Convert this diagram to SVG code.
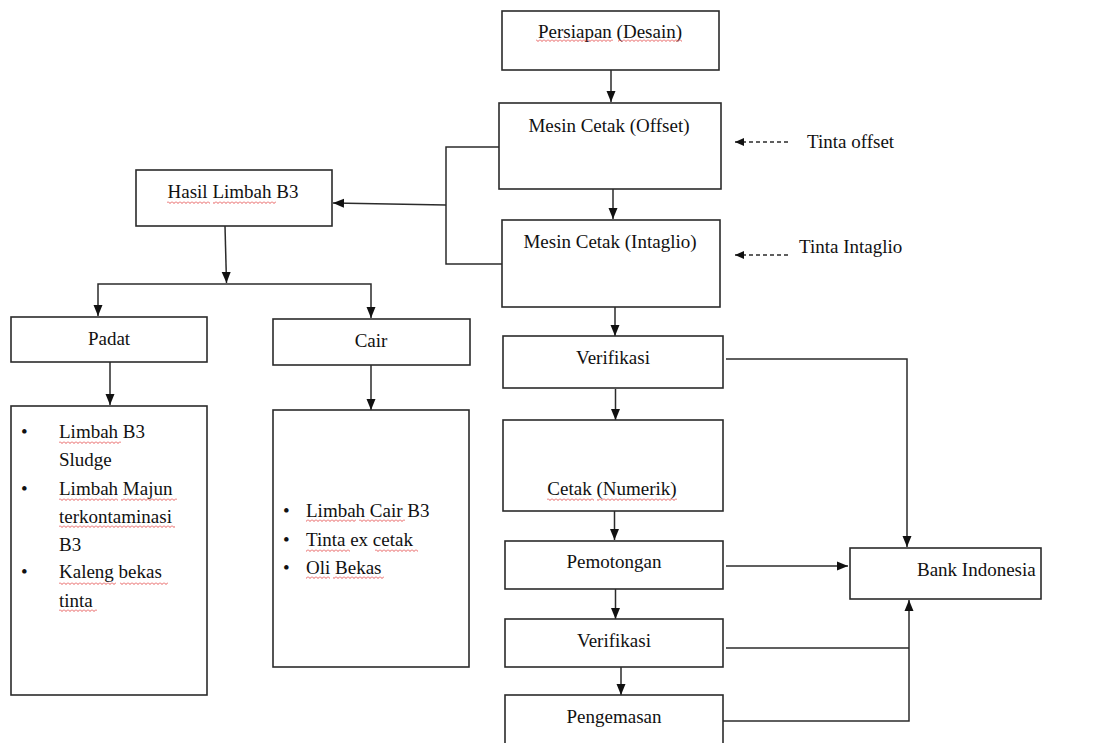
<svg xmlns="http://www.w3.org/2000/svg" width="1100" height="743" viewBox="0 0 1100 743">
<style>
.box{fill:#fff;stroke:#2b2b2b;stroke-width:1.6}
.t{font-family:'Liberation Serif','DejaVu Serif',serif;font-size:19px;fill:#111}
.c{text-anchor:middle}
.ln{fill:none;stroke:#2b2b2b;stroke-width:1.5}
.dash{fill:none;stroke:#2b2b2b;stroke-width:1.3;stroke-dasharray:4 3}
.sq{fill:url(#zig)}
</style>
<defs>
<marker id="ah" markerUnits="userSpaceOnUse" markerWidth="12" markerHeight="12" viewBox="0 0 12 12" refX="11" refY="6" orient="auto-start-reverse">
<path d="M0,1.5 L11,6 L0,10.5 Z" fill="#111"/>
</marker>
<marker id="ahs" markerUnits="userSpaceOnUse" markerWidth="10" markerHeight="10" viewBox="0 0 10 10" refX="9" refY="5" orient="auto">
<path d="M0,1 L9,5 L0,9 Z" fill="#111"/>
</marker>
<pattern id="zig" patternUnits="userSpaceOnUse" width="4" height="3">
<path d="M0,0.5 L2,2.5 L4,0.5" fill="none" stroke="#e03030" stroke-width="0.8"/>
</pattern>
</defs>
<rect width="1100" height="743" fill="#fff"/>

<g id="connectors">
<line class="ln" x1="611" y1="70" x2="611" y2="102" marker-end="url(#ah)"/>
<line class="ln" x1="613" y1="189" x2="613" y2="219" marker-end="url(#ah)"/>
<polyline class="ln" points="499,147 446,147 446,264 502,264"/>
<line class="ln" x1="446" y1="205" x2="333" y2="203" marker-end="url(#ah)"/>
<line class="ln" x1="225" y1="226" x2="226.5" y2="283" marker-end="url(#ah)"/>
<polyline class="ln" points="98,316 98,284 371,284 371,318" marker-start="url(#ah)" marker-end="url(#ah)"/>
<line class="ln" x1="110" y1="362" x2="110" y2="405" marker-end="url(#ah)"/>
<line class="ln" x1="371" y1="365" x2="371" y2="410" marker-end="url(#ah)"/>
<line class="dash" x1="788" y1="142" x2="735" y2="142" marker-end="url(#ahs)"/>
<line class="dash" x1="788" y1="255" x2="735" y2="255" marker-end="url(#ahs)"/>
<line class="ln" x1="615" y1="307" x2="615" y2="336" marker-end="url(#ah)"/>
<polyline class="ln" points="726,359 907,359 907,547" marker-end="url(#ah)"/>
<line class="ln" x1="615.5" y1="389" x2="615.5" y2="420" marker-end="url(#ah)"/>
<line class="ln" x1="614.5" y1="511" x2="614.5" y2="540" marker-end="url(#ah)"/>
<line class="ln" x1="726" y1="566" x2="848" y2="566" marker-end="url(#ah)"/>
<line class="ln" x1="615.5" y1="589" x2="615.5" y2="619" marker-end="url(#ah)"/>
<line class="ln" x1="621" y1="667" x2="621" y2="695" marker-end="url(#ah)"/>
<line class="ln" x1="726" y1="648" x2="909" y2="648"/>
<polyline class="ln" points="723,721 909,721 909,600" marker-end="url(#ah)"/>
</g>

<g id="persiapan">
<rect class="box" x="502" y="11" width="217" height="59"/>
<text class="t c" x="610" y="38">Persiapan (Desain)</text>
<rect class="sq" x="536" y="39" width="77" height="3"/>
<rect class="sq" x="618" y="39" width="64" height="3"/>
</g>
<g id="offset">
<rect class="box" x="499" y="103" width="222" height="86"/>
<text class="t c" x="609" y="132">Mesin Cetak (Offset)</text>
</g>
<g id="intaglio">
<rect class="box" x="502" y="220" width="218" height="87"/>
<text class="t c" x="610" y="248">Mesin Cetak (Intaglio)</text>
</g>
<g id="tinta-offset">
<text class="t" x="807" y="148">Tinta offset</text>
</g>
<g id="tinta-intaglio">
<text class="t" x="799" y="253">Tinta Intaglio</text>
</g>
<g id="hasil">
<rect class="box" x="136" y="170" width="196" height="56"/>
<text class="t c" x="233" y="198">Hasil Limbah B3</text>
<rect class="sq" x="167" y="201" width="43" height="3"/>
<rect class="sq" x="213" y="201" width="63" height="3"/>
</g>
<g id="padat">
<rect class="box" x="11" y="317" width="196" height="45"/>
<text class="t c" x="109" y="345">Padat</text>
</g>
<g id="cair">
<rect class="box" x="273" y="319" width="197" height="46"/>
<text class="t c" x="371" y="347">Cair</text>
</g>
<g id="padat-list">
<rect class="box" x="11" y="406" width="196" height="289"/>
<text class="t" x="21" y="438">•</text>
<text class="t" x="59" y="438">Limbah B3</text>
<text class="t" x="59" y="466">Sludge</text>
<text class="t" x="21" y="495">•</text>
<text class="t" x="59" y="495">Limbah Majun</text>
<text class="t" x="59" y="523">terkontaminasi</text>
<text class="t" x="59" y="551">B3</text>
<text class="t" x="21" y="578">•</text>
<text class="t" x="59" y="578">Kaleng bekas</text>
<text class="t" x="59" y="607">tinta</text>
<rect class="sq" x="59" y="441" width="62" height="3"/>
<rect class="sq" x="59" y="498" width="59" height="3"/>
<rect class="sq" x="121" y="498" width="56" height="3"/>
<rect class="sq" x="59" y="525" width="116" height="3"/>
<rect class="sq" x="59" y="582" width="57" height="3"/>
<rect class="sq" x="120" y="582" width="48" height="3"/>
<rect class="sq" x="59" y="609" width="38" height="3"/>
</g>
<g id="cair-list">
<rect class="box" x="273" y="410" width="196" height="257"/>
<text class="t" x="283" y="517">•</text>
<text class="t" x="306" y="517">Limbah Cair B3</text>
<text class="t" x="283" y="546">•</text>
<text class="t" x="306" y="546">Tinta ex cetak</text>
<text class="t" x="283" y="574">•</text>
<text class="t" x="306" y="574">Oli Bekas</text>
<rect class="sq" x="306" y="519" width="50" height="3"/>
<rect class="sq" x="359" y="519" width="46" height="3"/>
<rect class="sq" x="306" y="549" width="44" height="3"/>
<rect class="sq" x="375" y="549" width="43" height="3"/>
<rect class="sq" x="306" y="576" width="24" height="3"/>
<rect class="sq" x="333" y="576" width="51" height="3"/>
</g>
<g id="verifikasi1">
<rect class="box" x="503" y="336" width="220" height="52"/>
<text class="t c" x="613" y="364">Verifikasi</text>
</g>
<g id="numerik">
<rect class="box" x="503" y="420" width="220" height="91"/>
<text class="t c" x="612" y="495">Cetak (Numerik)</text>
<rect class="sq" x="547" y="498" width="47" height="3"/>
<rect class="sq" x="597" y="498" width="80" height="3"/>
</g>
<g id="pemotongan">
<rect class="box" x="505" y="541" width="218" height="48"/>
<text class="t c" x="614" y="568">Pemotongan</text>
</g>
<g id="verifikasi2">
<rect class="box" x="505" y="619" width="218" height="48"/>
<text class="t c" x="614" y="647">Verifikasi</text>
</g>
<g id="pengemasan">
<rect class="box" x="505" y="695" width="218" height="52"/>
<text class="t c" x="614" y="723">Pengemasan</text>
</g>
<g id="bank">
<rect class="box" x="850" y="548" width="191" height="51"/>
<text class="t" x="917" y="576">Bank Indonesia</text>
</g>
</svg>
